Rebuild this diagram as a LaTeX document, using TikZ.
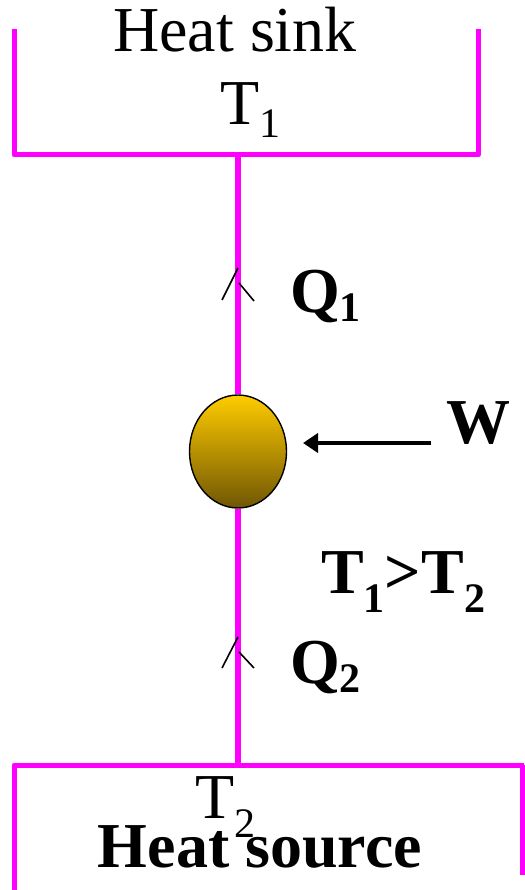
\documentclass[tikz,border=0pt]{standalone}
\usepackage{fontspec}
\setmainfont{Liberation Serif}
\usetikzlibrary{shapes.geometric,arrows.meta}
\definecolor{mag}{RGB}{255,0,255}
\definecolor{balltop}{RGB}{255,204,0}
\definecolor{ballbot}{RGB}{112,86,4}
\newcommand\subtx[2]{\raisebox{-#1pt}{\fontsize{42}{42}\selectfont #2}}
\tikzset{
  wall/.style={draw=mag, line width=5pt, line join=round},
  rod/.style={draw=mag, line width=5.5pt},
  chev/.style={draw=black, line width=1.6pt},
  txt/.style={inner sep=0pt, font=\fontsize{64}{64}\selectfont},
  btxt/.style={inner sep=0pt, font=\fontsize{64}{64}\selectfont\bfseries},
  warrow/.style={draw=black, line width=4pt, -{Triangle[length=15pt,width=19pt]}}
}
\begin{document}
\begin{tikzpicture}[x=1pt,y=-1pt]
\useasboundingbox (0,0) rectangle (524,890);
% heat sink box
\draw[wall] (14,29) -- (14,155) -- (478,155) -- (478,29);
\coordinate (sinkjoin) at (238,155);
% heat source box
\draw[wall] (14,890) -- (14,765) -- (524,765);
\draw[wall] (522,765) -- (522,875);
\coordinate (srcjoin) at (238,765);
% ball
\node[ellipse, draw=black, line width=1.4pt, minimum width=97pt, minimum height=113pt,
      inner sep=0pt, top color=balltop, bottom color=ballbot] (ball) at (238,451.5) {};
% rods
\draw[rod] (sinkjoin) -- (ball.north);
\draw[rod] (ball.south) -- (srcjoin);
% chevrons
\coordinate (c1a) at (222,300); \coordinate (c1b) at (238,268);
\coordinate (c1c) at (239,283); \coordinate (c1d) at (254,301);
\draw[chev] (c1a) -- (c1b);
\draw[chev] (c1c) -- (c1d);
\coordinate (c2a) at (222,668); \coordinate (c2b) at (238,637);
\coordinate (c2c) at (239,652); \coordinate (c2d) at (254,668);
\draw[chev] (c2a) -- (c2b);
\draw[chev] (c2c) -- (c2d);
% work arrow
\coordinate (wtail) at (431,443);
\draw[warrow] (wtail) -- (303,443);
% texts
\node[txt, anchor=base] (sink) at (235,52) {Heat sink};
\node[txt, anchor=base west] (t1) at (220,125) {T\subtx{13}{1}};
\node[btxt, anchor=base west] (q1) at (290,312) {Q\subtx{9}{1}};
\node[btxt, anchor=base west] (w) at (446,443) {W};
\node[btxt, anchor=base west] (cmp) at (321,593) {T\subtx{19}{1}>T\subtx{19}{2}};
\node[btxt, anchor=base west] (q2) at (290,683) {Q\subtx{9}{2}};
\node[txt, anchor=base west] (t2) at (195,818) {T\subtx{19}{2}};
\node[btxt, anchor=base] (src) at (260,867) {Heat source};
\end{tikzpicture}
\end{document}
